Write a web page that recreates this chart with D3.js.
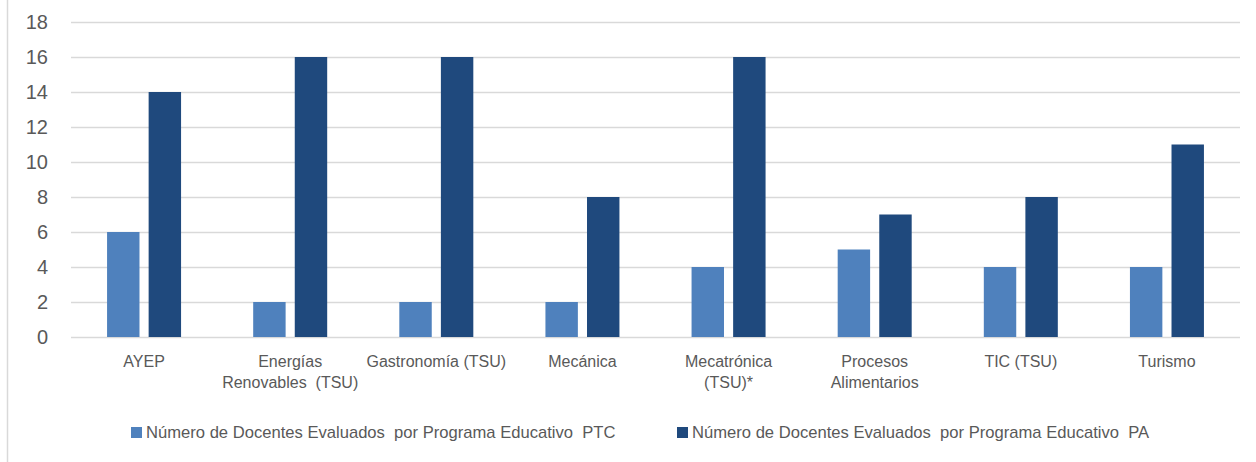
<!DOCTYPE html>
<html>
<head>
<meta charset="utf-8">
<script src="https://cdnjs.cloudflare.com/ajax/libs/d3/7.8.5/d3.min.js"></script>
<style>
  body { margin: 0; background: #fff; }
  text { font-family: "Liberation Sans", Arial, sans-serif; fill: #595959; }
</style>
</head>
<body>
<svg id="chart"></svg>
<script>
const categories = [
  ["AYEP"],
  ["Energías", "Renovables  (TSU)"],
  ["Gastronomía (TSU)"],
  ["Mecánica"],
  ["Mecatrónica", "(TSU)*"],
  ["Procesos", "Alimentarios"],
  ["TIC (TSU)"],
  ["Turismo"]
];
const seriesNames = [
  "Número de Docentes Evaluados  por Programa Educativo  PTC",
  "Número de Docentes Evaluados  por Programa Educativo  PA"
];
const ptcValues = [6, 2, 2, 2, 4, 5, 4, 4];
const paValues = [14, 16, 16, 8, 16, 7, 8, 11];
const yTicks = [0, 2, 4, 6, 8, 10, 12, 14, 16, 18];
const colors = ["#4f81bd", "#1f497d"];

const W = 1256, H = 462;
const margin = { top: 22, right: 16, bottom: 125, left: 71 };
const width = W - margin.left - margin.right;
const height = H - margin.top - margin.bottom;

const svg = d3.select("#chart").attr("width", W).attr("height", H);

// chart border (only left edge visible)
svg.append("line")
  .attr("x1", 7.5).attr("x2", 7.5).attr("y1", 0).attr("y2", H)
  .attr("stroke", "#d9d9d9").attr("stroke-width", 1.5);

const g = svg.append("g")
  .attr("transform", "translate(" + margin.left + "," + margin.top + ")");

const x0 = d3.scaleBand()
  .domain(d3.range(categories.length))
  .range([0, width]);
const x1 = d3.scaleBand()
  .domain([0, 1])
  .range([x0.bandwidth() / 2 - 37, x0.bandwidth() / 2 + 37])
  .paddingInner(0.22);
const y = d3.scaleLinear().domain([0, 18]).range([height, 0]);

// gridlines
g.append("g")
  .call(d3.axisLeft(y).tickValues(yTicks).tickSize(-width).tickFormat(""))
  .call(s => s.select(".domain").remove())
  .call(s => s.selectAll("line").attr("stroke", "#d9d9d9").attr("stroke-width", 1.5));

// y labels
g.append("g")
  .call(d3.axisLeft(y).tickValues(yTicks).tickSize(0).tickPadding(23))
  .call(s => s.select(".domain").remove())
  .call(s => s.selectAll("text")
    .style("font-size", "20px").attr("fill", "#595959")
    .style("font-family", "'Liberation Sans', Arial, sans-serif"));

const series = [ptcValues, paValues];
series.forEach((vals, si) => {
  g.append("g").selectAll("rect")
    .data(vals)
    .join("rect")
    .attr("x", (d, i) => x0(i) + x1(si))
    .attr("width", x1.bandwidth())
    .attr("y", d => y(d))
    .attr("height", d => height - y(d))
    .attr("fill", colors[si]);
});

// category labels
const xl = g.append("g").attr("transform", "translate(0," + height + ")");
categories.forEach((lines, i) => {
  const t = xl.append("text")
    .attr("x", x0(i) + x0.bandwidth() / 2)
    .attr("y", 30)
    .attr("text-anchor", "middle")
    .style("font-size", "16px");
  lines.forEach((ln, k) => {
    t.append("tspan")
      .attr("x", x0(i) + x0.bandwidth() / 2)
      .attr("dy", k === 0 ? 0 : 21)
      .attr("xml:space", "preserve")
      .text(ln);
  });
});

// legend
const legendX = [131, 677];
seriesNames.forEach((name, si) => {
  const lg = svg.append("g").attr("transform", "translate(" + legendX[si] + ",427)");
  lg.append("rect").attr("width", 11).attr("height", 11).attr("fill", colors[si]);
  lg.append("text")
    .attr("x", 15).attr("y", 10.5)
    .attr("xml:space", "preserve")
    .style("font-size", "16.6px")
    .text(name);
});
</script>
</body>
</html>
